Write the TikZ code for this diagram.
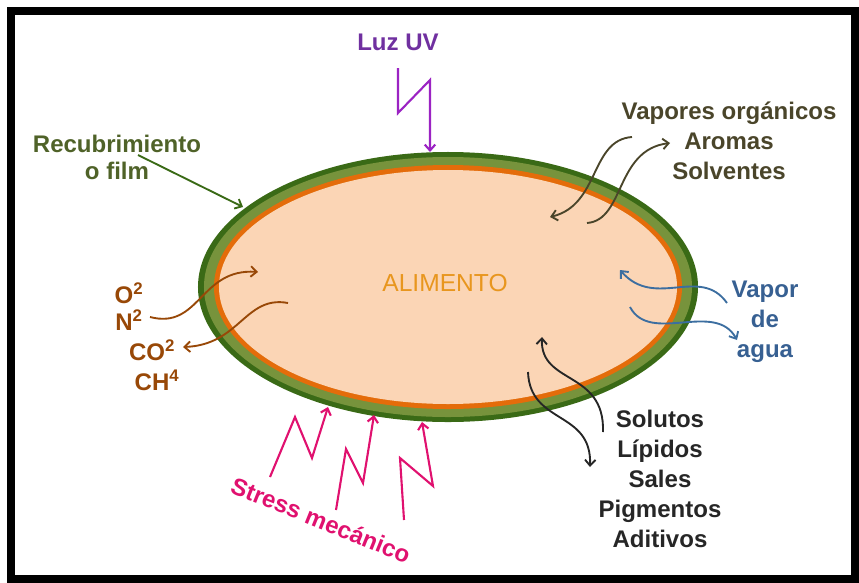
\documentclass[tikz,border=0pt]{standalone}
\usepackage{fontspec}
\setmainfont{Liberation Sans}
\usetikzlibrary{arrows.meta}

\definecolor{filmdark}{RGB}{58,106,22}
\definecolor{filmlight}{RGB}{119,147,60}
\definecolor{coatorange}{RGB}{228,108,10}
\definecolor{peach}{RGB}{251,213,181}
\definecolor{foodorange}{RGB}{232,150,30}
\definecolor{uvtext}{RGB}{112,48,160}
\definecolor{uvline}{RGB}{155,35,195}
\definecolor{filmtext}{RGB}{79,98,40}
\definecolor{vaportext}{RGB}{74,69,42}
\definecolor{gasbrown}{RGB}{152,72,7}
\definecolor{watertext}{RGB}{55,96,146}
\definecolor{waterline}{RGB}{60,110,160}
\definecolor{solutetext}{RGB}{38,38,38}
\definecolor{stress}{RGB}{224,17,111}

\begin{document}
\begin{tikzpicture}[x=0.03cm, y=-0.03cm,
    >={Straight Barb[length=5pt,width=9pt]},
    lbl/.style={font=\fontsize{20.5}{25.5}\selectfont\bfseries, align=center},
    flow/.style={->, line width=1.6pt},
    bolt/.style={->, line width=1.8pt, line join=miter}]
    % Frame
    \useasboundingbox (0,0) rectangle (859,583);
    \draw[line width=6.5pt] (11,11) rectangle (855,579);

    % Food and its coating
    \fill[filmdark] (448,287) ellipse [x radius=7.5cm, y radius=4.05cm];
    \fill[filmlight] (448,287) ellipse [x radius=7.32cm, y radius=3.9cm];
    \fill[coatorange] (448,287) ellipse [x radius=7.02cm, y radius=3.66cm];
    \fill[peach] (448,287) ellipse [x radius=6.87cm, y radius=3.51cm];
    \node[font=\fontsize{21}{25}\selectfont, text=foodorange] (food) at (445,283) {ALIMENTO};

    % UV light
    \node[lbl, text=uvtext] (uv) at (398,42) {Luz UV};
    \draw[bolt, uvline] (398,68) -- (398,113) -- (430,80) -- (430,152);

    % Coating label
    \node[lbl, font=\fontsize{20.5}{23}\selectfont\bfseries, text=filmtext] (film) at (117,157) {Recubrimiento\\o film};
    \draw[flow, filmdark] (138,155) -- (243,207);

    % Organic vapours
    \node[lbl, text=vaportext] (organic) at (729,141) {Vapores orgánicos\\Aromas\\Solventes};
    \draw[flow, vaportext] (632,137) .. controls (590,140) and (600,205) .. (550,217);
    \draw[flow, vaportext] (587,223) .. controls (625,220) and (615,150) .. (670,143);

    % Gases
    \node[lbl, text=gasbrown, anchor=base] (oxygen) at (129,303) {O\textsuperscript{2}};
    \node[lbl, text=gasbrown, anchor=base] (nitrogen) at (129,330) {N\textsuperscript{2}};
    \node[lbl, text=gasbrown, anchor=base] (carbon) at (152,360) {CO\textsuperscript{2}};
    \node[lbl, text=gasbrown, anchor=base] (methane) at (157,390) {CH\textsuperscript{4}};
    \draw[flow, gasbrown] (150,317) .. controls (200,330) and (200,268) .. (258,272);
    \draw[flow, gasbrown] (288,303) .. controls (245,295) and (240,345) .. (183,347);

    % Water vapour
    \node[lbl, text=watertext] (water) at (765,322) {Vapor\\de\\agua};
    \draw[flow, waterline] (727,303) .. controls (700,265) and (655,310) .. (620,270);
    \draw[flow, waterline] (630,307) .. controls (650,345) and (715,300) .. (737,340);

    % Solutes
    \node[lbl, text=solutetext] (solutes) at (660,479) {Solutos\\Lípidos\\Sales\\Pigmentos\\Aditivos};
    \draw[flow, solutetext] (603,432) .. controls (605,370) and (540,385) .. (542,337);
    \draw[flow, solutetext] (528,372) .. controls (530,425) and (592,410) .. (590,467);

    % Mechanical stress
    \node[lbl, text=stress, rotate=-22, inner sep=0pt] (stresslbl) at (321,520) {Stress mecánico};
    \draw[bolt, stress] (270,477) -- (295,417) -- (312,458) -- (328,407);
    \draw[bolt, stress] (336,510) -- (346,449) -- (363,483) -- (374,415);
    \draw[bolt, stress] (404,520) -- (400,458) -- (433,486) -- (422,422);
\end{tikzpicture}
\end{document}
